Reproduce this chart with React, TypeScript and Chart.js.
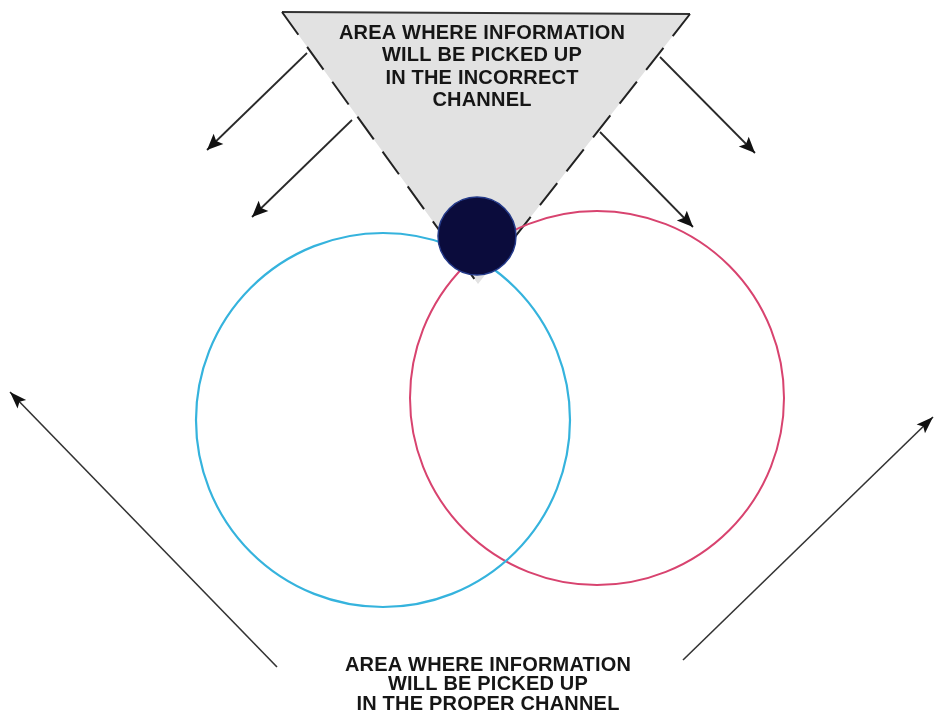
import React, { useEffect, useRef } from 'react';
import { Chart, registerables } from 'chart.js';
Chart.register(...registerables);

// Diagram geometry (data units; 1 unit ≈ 1 px on a 934×716 plane)
const triangleX = [282, 690, 478];
const triangleY = [12, 14, 284];
const dotX = 477;
const dotY = 236;
const dotR = 39;
const leftLobeX = 383;
const leftLobeY = 420;
const leftLobeR = 187;
const rightLobeX = 597;
const rightLobeY = 398;
const rightLobeR = 187;
const arrowStartX = [307, 352, 660, 600, 277, 683];
const arrowStartY = [53, 120, 57, 132, 667, 660];
const arrowTipX = [207, 252, 755, 693, 10, 933];
const arrowTipY = [150, 217, 153, 227, 392, 417];
const topLabel = ['AREA WHERE INFORMATION', 'WILL BE PICKED UP', 'IN THE INCORRECT', 'CHANNEL'];
const bottomLabel = ['AREA WHERE INFORMATION', 'WILL BE PICKED UP', 'IN THE PROPER CHANNEL'];

const TOP_LABEL_ANCHOR = { x: 482, y: 33, step: 22.5 };
const BOTTOM_LABEL_ANCHOR = { x: 488, y: 665, step: 19.5 };

const arrowHeads = {
  id: 'arrowHeads',
  afterDatasetsDraw(chart: any) {
    const ctx = chart.ctx;
    chart.data.datasets.forEach((ds: any, i: number) => {
      if (!ds.arrowHead) return;
      const pts = chart.getDatasetMeta(i).data;
      const a = pts[pts.length - 2];
      const b = pts[pts.length - 1];
      const ang = Math.atan2(b.y - a.y, b.x - a.x);
      const len = ds.arrowHead.len;
      const half = ds.arrowHead.half;
      ctx.save();
      ctx.translate(b.x, b.y);
      ctx.rotate(ang);
      ctx.beginPath();
      ctx.moveTo(0, 0);
      ctx.lineTo(-len, -half);
      ctx.lineTo(-len * 0.8, 0);
      ctx.lineTo(-len, half);
      ctx.closePath();
      ctx.fillStyle = '#111';
      ctx.fill();
      ctx.restore();
    });
  },
};

const labels = {
  id: 'labels',
  afterDraw(chart: any) {
    const ctx = chart.ctx;
    const xs = chart.scales.x;
    const ys = chart.scales.y;
    ctx.save();
    ctx.fillStyle = '#161616';
    ctx.font = 'bold 20px "Liberation Sans", Arial, sans-serif';
    (ctx as any).letterSpacing = '0.2px';
    ctx.textAlign = 'center';
    ctx.textBaseline = 'middle';
    const drawBlock = (lines: string[], anc: { x: number; y: number; step: number }) => {
      lines.forEach((t, k) => {
        ctx.fillText(t, xs.getPixelForValue(anc.x), ys.getPixelForValue(anc.y + k * anc.step));
      });
    };
    drawBlock(topLabel, TOP_LABEL_ANCHOR);
    drawBlock(bottomLabel, BOTTOM_LABEL_ANCHOR);
    ctx.restore();
  },
};

export default function App() {
  const ref = useRef<HTMLCanvasElement | null>(null);
  useEffect(() => {
    document.body.style.margin = '0';
    const arrows = arrowStartX.map((sx, i) => {
      const big = i >= 4;
      return {
        type: 'line',
        data: [
          { x: sx, y: arrowStartY[i] },
          { x: arrowTipX[i], y: arrowTipY[i] },
        ],
        showLine: true,
        borderColor: big ? '#333' : '#2a2a2a',
        borderWidth: big ? 1.6 : 1.8,
        pointRadius: 0,
        fill: false,
        clip: false,
        arrowHead: big ? { len: 17, half: 6 } : { len: 16, half: 7 },
      };
    });
    const tri = triangleX.map((x, i) => ({ x, y: triangleY[i] }));
    const chart = new Chart(ref.current as HTMLCanvasElement, {
      type: 'scatter',
      data: {
        datasets: [
          {
            type: 'bubble',
            data: [{ x: dotX, y: dotY, r: dotR }],
            backgroundColor: '#0b0c3c',
            borderColor: '#243a8a',
            borderWidth: 1.5,
            clip: false,
          },
          ...arrows,
          {
            type: 'bubble',
            data: [{ x: leftLobeX, y: leftLobeY, r: leftLobeR }],
            backgroundColor: 'rgba(0,0,0,0)',
            borderColor: '#35b3dd',
            borderWidth: 2.2,
            clip: false,
          },
          {
            type: 'bubble',
            data: [{ x: rightLobeX, y: rightLobeY, r: rightLobeR }],
            backgroundColor: 'rgba(0,0,0,0)',
            borderColor: '#d8436f',
            borderWidth: 2,
            clip: false,
          },
          {
            type: 'line',
            data: [tri[0], tri[2]],
            showLine: true,
            borderColor: '#222',
            borderWidth: 2,
            borderDash: [28, 15],
            pointRadius: 0,
            fill: false,
            clip: false,
          },
          {
            type: 'line',
            data: [tri[1], tri[2]],
            showLine: true,
            borderColor: '#222',
            borderWidth: 2,
            borderDash: [28, 15],
            pointRadius: 0,
            fill: false,
            clip: false,
          },
          {
            type: 'line',
            data: [tri[0], tri[1]],
            showLine: true,
            borderColor: '#333',
            borderWidth: 2,
            pointRadius: 0,
            fill: false,
            clip: false,
          },
          {
            type: 'line',
            data: [tri[0], tri[1], tri[2], tri[0]],
            showLine: true,
            borderWidth: 0,
            borderColor: 'rgba(0,0,0,0)',
            backgroundColor: '#e2e2e2',
            pointRadius: 0,
            fill: 'shape',
            clip: false,
          },
        ] as any,
      },
      options: {
        animation: false,
        responsive: false,
        events: [],
        layout: { padding: 0, autoPadding: false },
        plugins: { legend: { display: false }, tooltip: { enabled: false } },
        scales: {
          x: { type: 'linear', display: false, min: 0, max: 934 },
          y: { type: 'linear', display: false, min: 0, max: 716, reverse: true },
        },
      } as any,
      plugins: [arrowHeads, labels],
    });
    return () => chart.destroy();
  }, []);
  return (
    <div style={{ position: 'fixed', left: 0, top: 0, width: 934, height: 716, background: '#fff' }}>
      <canvas ref={ref} width={934} height={716} style={{ display: 'block' }} />
    </div>
  );
}
